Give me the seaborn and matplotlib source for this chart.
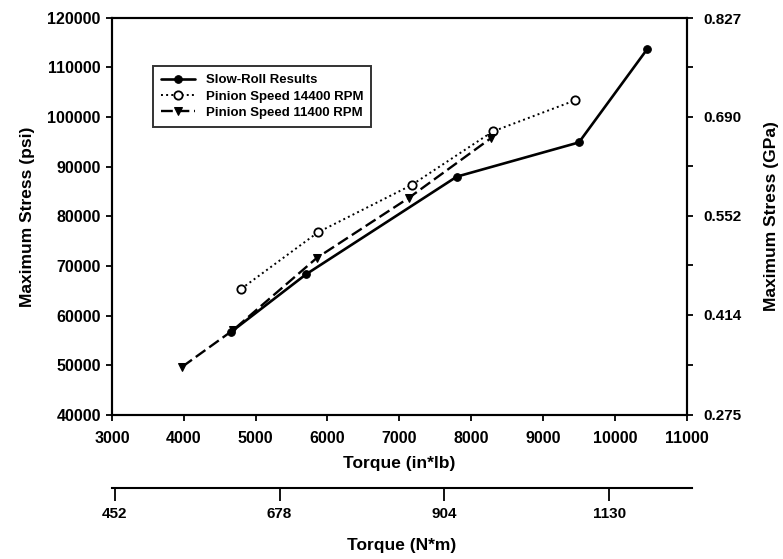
import pandas as pd
import matplotlib
matplotlib.use("Agg")
import matplotlib.pyplot as plt
import seaborn as sns

# Slow-roll results (torque in*lb, stress psi)
slow_torque = [4650, 5700, 7800, 9500, 10450]
slow_stress = [56600, 68300, 88000, 94900, 113700]

# Pinion speed 14400 RPM
p14400_torque = [4800, 5870, 7170, 8300, 9450]
p14400_stress = [65400, 76800, 86300, 97100, 103400]

# Pinion speed 11400 RPM
p11400_torque = [3980, 4680, 5850, 7130, 8270]
p11400_stress = [49700, 57000, 71600, 83700, 95700]

y_ticks = [40000, 50000, 60000, 70000, 80000, 90000, 100000, 110000, 120000]
x_ticks = [3000, 4000, 5000, 6000, 7000, 8000, 9000, 10000, 11000]
gpa_ticks = [0.275, 0.414, 0.552, 0.690, 0.827]
gpa_labels = ["0.275", "0.414", "0.552", "0.690", "0.827"]
nm_ticks = [452, 678, 904, 1130]

sns.set_style("white")
plt.rcParams['font.family'] = ['Liberation Sans', 'DejaVu Sans']
plt.rcParams['font.weight'] = 'bold'
plt.rcParams['axes.labelweight'] = 'bold'
plt.rcParams['axes.linewidth'] = 1.5
plt.rcParams['text.color'] = 'black'
plt.rcParams['axes.labelcolor'] = 'black'
plt.rcParams['xtick.color'] = 'black'
plt.rcParams['ytick.color'] = 'black'
plt.rcParams['axes.edgecolor'] = 'black'

fig = plt.figure(figsize=(7.83, 5.59), dpi=100)
ax = fig.add_axes([0.143, 0.258, 0.734, 0.71])

sns.lineplot(x=slow_torque, y=slow_stress, ax=ax, color='black', lw=1.9,
             marker='o', markersize=5.5, markerfacecolor='black', markeredgecolor='black',
             label='Slow-Roll Results', sort=False)
sns.lineplot(x=p14400_torque, y=p14400_stress, ax=ax, color='black', lw=1.4,
             linestyle=':', marker='o', markersize=6, markerfacecolor='white',
             markeredgecolor='black', markeredgewidth=1.3,
             label='Pinion Speed 14400 RPM', sort=False)
sns.lineplot(x=p11400_torque, y=p11400_stress, ax=ax, color='black', lw=1.7,
             linestyle=(0, (5, 2)), marker='v', markersize=6, markerfacecolor='black',
             markeredgecolor='black', label='Pinion Speed 11400 RPM', sort=False)

ax.set_xlim(3000, 11000)
ax.set_ylim(40000, 120000)
ax.set_xticks(x_ticks)
ax.set_yticks(y_ticks)
ax.tick_params(axis='both', direction='out', length=4, width=1.3, labelsize=11.5, pad=4)
ax.tick_params(axis='x', pad=8)
ax.tick_params(left=True, bottom=True)
ax.set_xlabel('Torque (in*lb)', fontsize=12.5, labelpad=7)
ax.set_ylabel('Maximum Stress (psi)', fontsize=12.5, labelpad=9)

leg = ax.legend(loc='upper left', bbox_to_anchor=(0.06, 0.895),
                prop={'size': 9.5, 'weight': 'bold'},
                frameon=True, fancybox=False, edgecolor='black', borderpad=0.6,
                handlelength=2.6, labelspacing=0.3)
leg.get_frame().set_linewidth(1.4)

# right-hand GPa axis
ax2 = ax.twinx()
ax2.set_ylim(40000 * 6.894757e-6, 120000 * 6.894757e-6)
ax2.set_yticks(gpa_ticks)
ax2.set_yticklabels(gpa_labels)
ax2.set_yticks([(a + b) / 2 for a, b in zip(gpa_ticks[:-1], gpa_ticks[1:])], minor=True)
ax2.tick_params(axis='y', which='both', direction='out', length=4, width=1.3,
                labelsize=11, right=True, pad=8)
ax2.set_ylabel('Maximum Stress (GPa)', fontsize=12.5, labelpad=16)

# lower N*m axis
ax3 = fig.add_axes([0.143, 0.127, 0.741, 0.0001])
ax3.set_xlim(448, 1244)
ax3.set_xticks(nm_ticks)
ax3.set_yticks([])
for side in ['top', 'left', 'right']:
    ax3.spines[side].set_visible(False)
ax3.patch.set_alpha(0)
ax3.tick_params(axis='x', direction='out', length=9, width=1.3, labelsize=11,
                bottom=True, pad=5)
ax3.set_xlabel('Torque (N*m)', fontsize=12.5, labelpad=12)

fig.savefig('out.png', dpi=100)
